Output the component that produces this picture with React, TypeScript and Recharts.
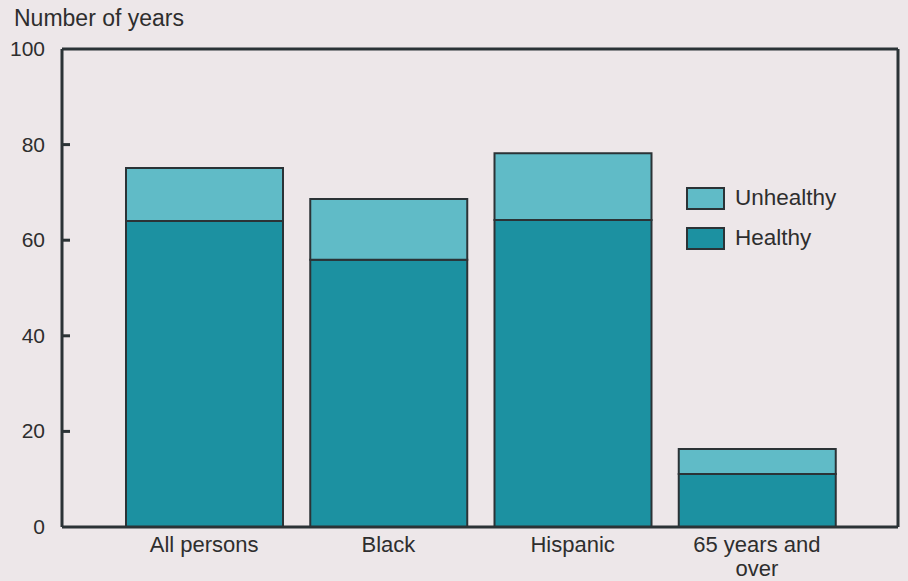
import React from 'react';
import { BarChart, Bar, XAxis, YAxis, Legend, ReferenceLine } from 'recharts';

const categories = ['All persons', 'Black', 'Hispanic', '65 years and over'];
const healthy = [64.0, 55.9, 64.2, 11.1];
const unhealthy = [11.1, 12.7, 14.0, 5.2];
const yTicks = [0, 20, 40, 60, 80, 100];

const data = categories.map((c, i) => ({ name: c, healthy: healthy[i], unhealthy: unhealthy[i] }));

const HEALTHY = '#1c91a1';
const UNHEALTHY = '#60bbc7';
const STROKE = '#2b3336';
const BG = '#ede7e9';
const TEXT = '#2e2e2e';
const FONT = '"Liberation Sans", Arial, sans-serif';

const YTick = (props: any) => {
  const { x, y, payload } = props;
  const v = payload.value;
  return (
    <g>
      <text x={x - 17} y={y + 7} textAnchor="end" fontSize={21} fill={TEXT} fontFamily={FONT}>{v}</text>
      {v > 0 && v < 100 ? <line x1={x} x2={x + 8} y1={y} y2={y} stroke={STROKE} strokeWidth={3} /> : null}
    </g>
  );
};

const XTick = (props: any) => {
  const { x, y, payload } = props;
  const label: string = payload.value;
  const lines = label === '65 years and over' ? ['65 years and', 'over'] : [label];
  return (
    <text x={x} y={y + 23} textAnchor="middle" fontSize={22} fill={TEXT} fontFamily={FONT}>
      {lines.map((l, i) => (
        <tspan key={i} x={x} dy={i === 0 ? 0 : 24}>{l}</tspan>
      ))}
    </text>
  );
};

const LegendContent = (props: any) => {
  const items = [...(props.payload || [])].reverse();
  return (
    <div style={{ fontFamily: FONT }}>
      {items.map((it: any, i: number) => (
        <div key={i} style={{ display: 'flex', alignItems: 'center', height: 22, marginBottom: 18 }}>
          <div style={{ width: 35, height: 19, background: it.color, border: `2px solid ${STROKE}`, marginRight: 10 }} />
          <span style={{ fontSize: 22.5, color: TEXT }}>{it.value}</span>
        </div>
      ))}
    </div>
  );
};

export default function App() {
  return (
    <div style={{ position: 'absolute', left: 0, top: 0, width: 908, height: 581, background: BG }}>
      <div style={{ position: 'absolute', left: 14, top: 5, fontSize: 23, color: TEXT, fontFamily: FONT }}>Number of years</div>
      <BarChart
        width={908}
        height={581}
        data={data}
        margin={{ top: 49, right: 9, left: 0, bottom: 0 }}
        barSize={157}
      >
        <XAxis
          dataKey="name"
          height={54}
          padding={{ left: 50, right: 49 }}
          axisLine={{ stroke: STROKE, strokeWidth: 3 }}
          tickLine={false}
          tick={<XTick />}
          interval={0}
          tickSize={0}
        />
        <YAxis
          width={62}
          domain={[0, 100]}
          ticks={yTicks}
          axisLine={{ stroke: STROKE, strokeWidth: 3 }}
          tickLine={false}
          tickSize={0}
          tickMargin={0}
          tick={<YTick />}
          interval={0}
        />
        <YAxis
          yAxisId="right"
          orientation="right"
          width={1}
          domain={[0, 100]}
          axisLine={{ stroke: STROKE, strokeWidth: 3 }}
          tick={false}
          tickLine={false}
        />
        <ReferenceLine y={100} stroke={STROKE} strokeWidth={3} />
        <Legend
          layout="horizontal"
          verticalAlign="middle"
          align="center"
          content={<LegendContent />}
          wrapperStyle={{ position: 'absolute', left: 686, top: 187, width: 200 }}
        />
        <Bar dataKey="healthy" name="Healthy" stackId="a" fill={HEALTHY} stroke={STROKE} strokeWidth={2} isAnimationActive={false} />
        <Bar dataKey="unhealthy" name="Unhealthy" stackId="a" fill={UNHEALTHY} stroke={STROKE} strokeWidth={2} isAnimationActive={false} />
      </BarChart>
    </div>
  );
}
